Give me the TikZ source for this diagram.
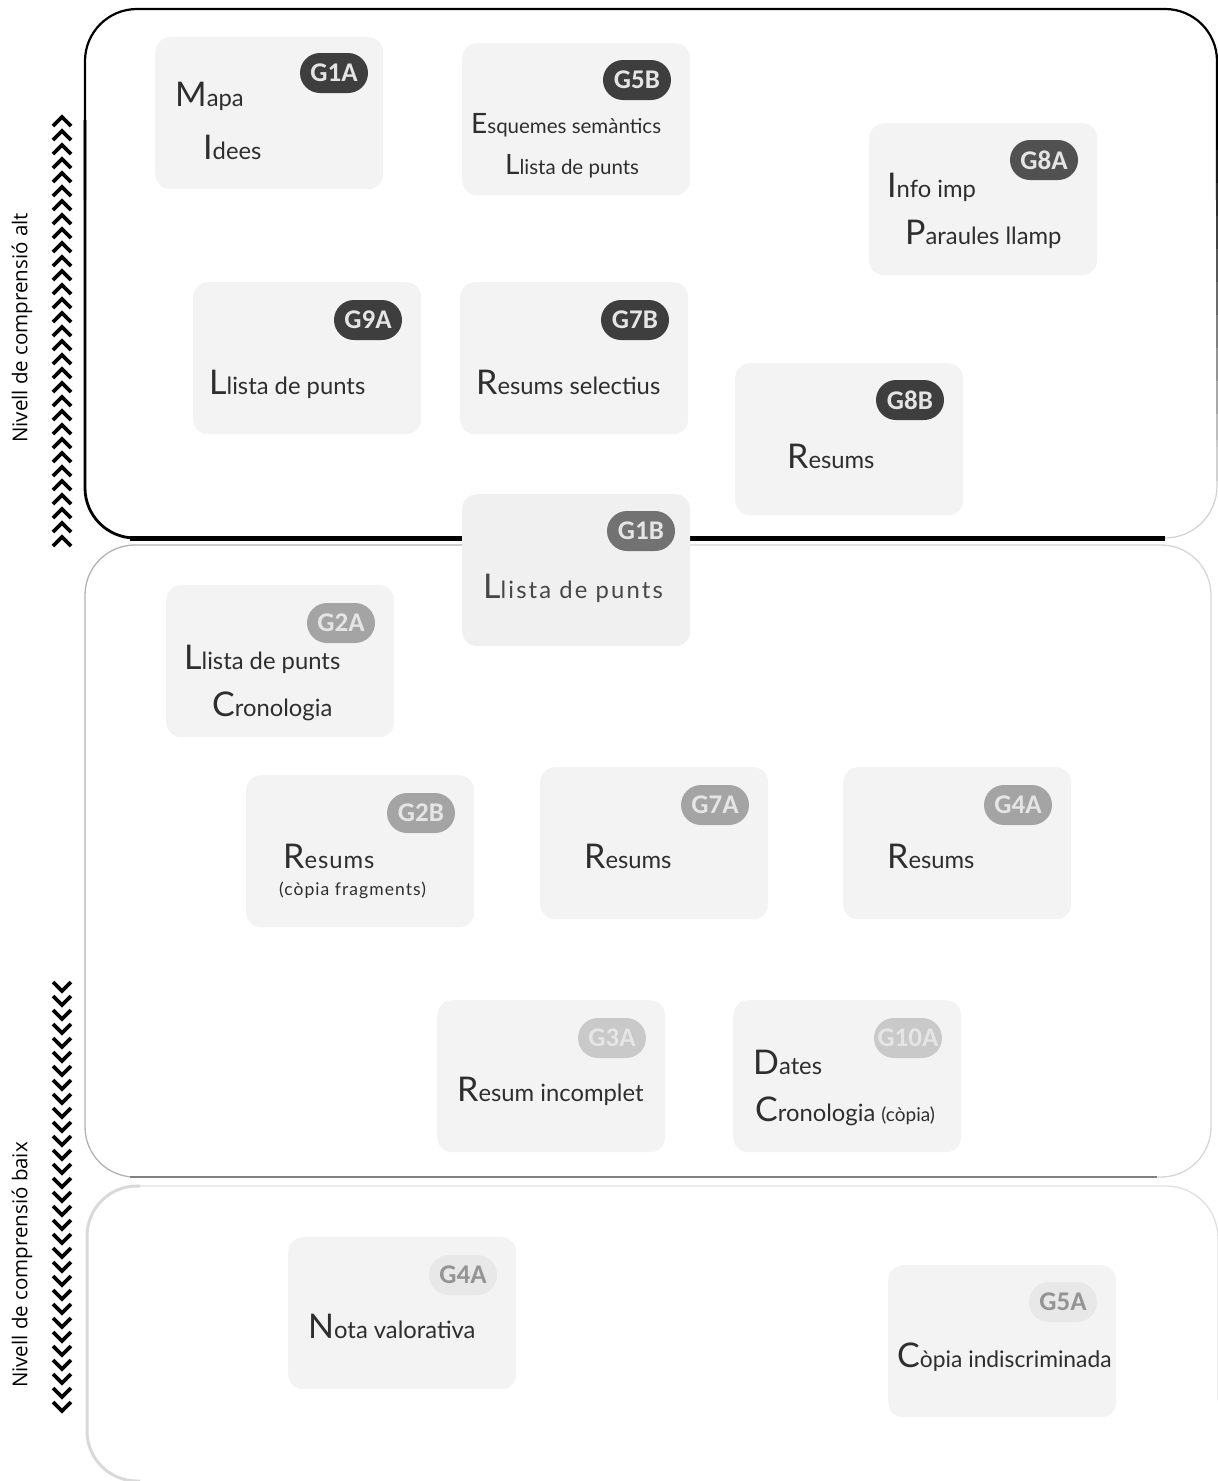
\documentclass[tikz,border=0pt]{standalone}
\usepackage{fontspec}
\setmainfont{Lato}
\newfontfamily\badgefont{Carlito}
\newfontfamily\sidefont{Open Sans}

\definecolor{cardfill}{HTML}{F3F3F3}
\definecolor{inktext}{HTML}{2E2E2E}
\definecolor{bdark}{HTML}{3E3E3E}
\definecolor{bmid}{HTML}{727272}
\definecolor{bgray}{HTML}{A4A4A4}
\definecolor{blight}{HTML}{C9C9C9}
\definecolor{bpale}{HTML}{E8E8E8}

% big initial letter followed by regular text
\newcommand\ini[1]{{\fontsize{34}{34}\selectfont #1}}
\newcommand\inis[1]{{\fontsize{28}{28}\selectfont #1}}
\newcommand\txt{\fontsize{23.8}{28}\selectfont}
\newcommand\txts{\fontsize{20.5}{24}\selectfont}

\begin{document}
\begin{tikzpicture}[x=1pt,y=-1pt,
  card/.style={fill=cardfill, rounded corners=15pt, minimum width=228pt,
    minimum height=152pt, inner sep=0pt, anchor=north west},
  badge/.style={rounded corners=20pt, minimum width=68pt, minimum height=40pt,
    inner sep=0pt, font=\badgefont\bfseries\fontsize{27}{27}\selectfont, text=white!90!black},
  label/.style={anchor=base west, inner sep=0pt, text=inktext},
  chev/.style={line width=3.8pt, line join=miter, miter limit=10},
  side/.style={rotate=90, inner sep=0pt, font=\sidefont\fontsize{20.5}{24}\selectfont}
]
\useasboundingbox (0,0) rectangle (1218,1481);

% ---------- level frames ----------
% upper frame: top edge, left edge, fading right edge, heavy base line
\draw[line width=2.2pt, rounded corners=52pt] (85,200) -- (85,9) -- (1217,9) -- (1217,200);
\draw[line width=2.8pt, rounded corners=50pt] (85,120) -- (85,538) -- (200,538);
\foreach \k in {0,...,9}{
  \pgfmathsetmacro\shade{10+8*\k}
  \draw[line width=1.6pt, color=white!\shade!black]
    (1217,{150+\k*33}) -- (1217,{150+(\k+1)*33+1});
}
\draw[line width=1.2pt, black!18, rounded corners=52pt] (1217,440) -- (1217,538) -- (1120,538);
\draw[line width=5pt] (130,538) -- (1165,538);

% middle frame
\draw[line width=1.3pt, black!16, rounded corners=50pt] (600,545) -- (1211,545) -- (1211,1177) -- (1100,1177);
\draw[line width=1.3pt, black!30, rounded corners=50pt] (600,545) -- (85,545) -- (85,1177) -- (200,1177);
\draw[line width=2.2pt, black!50] (130,1177) -- (1157,1177);

% lower frame
\draw[line width=1.3pt, black!12, rounded corners=52pt] (135,1186) -- (1218,1186) -- (1218,1400);
\draw[line width=3pt, black!15, rounded corners=50pt] (140,1186) -- (87,1186) -- (87,1481) -- (140,1481);

% ---------- direction markers ----------
\foreach \i in {0,...,30}
  \draw[chev] (53,{126+\i*14}) -- (62,{117+\i*14}) -- (71,{126+\i*14});
\foreach \i in {0,...,30}
  \draw[chev] (53,{982+\i*14}) -- (62,{991+\i*14}) -- (71,{982+\i*14});
\node[side] (lvhigh) at (22,328) {Nivell de comprensió alt};
\node[side] (lvlow) at (22,1265) {Nivell de comprensió baix};

% ---------- upper level cards ----------
\node[card] (g1a) at (155,37) {};
\node[badge, fill=bdark] (g1a-b) at (334,73) {G1A};
\node[label] (g1a-t1) at (175,106) {\txt\ini{M}apa};
\node[label] (g1a-t2) at (203,159) {\txt\ini{I}dees};

\node[card] (g5b) at (462,43) {};
\node[badge, fill=bdark] (g5b-b) at (637,80) {G5B};
\node[label] (g5b-t1) at (471,133) {\txts\inis{E}squemes semàntics};
\node[label] (g5b-t2) at (505,174) {\txts\inis{L}lista de punts};

\node[card] (g8a) at (869,123) {};
\node[badge, fill=bdark!90!white] (g8a-b) at (1044,160) {G8A};
\node[label] (g8a-t1) at (887,197) {\txt\ini{I}nfo imp};
\node[label] (g8a-t2) at (905,244) {\txt\ini{P}araules llamp};

\node[card] (g9a) at (193,282) {};
\node[badge, fill=bdark] (g9a-b) at (368,320) {G9A};
\node[label] (g9a-t) at (209,394) {\txt\ini{L}lista de punts};

\node[card] (g7b) at (460,282) {};
\node[badge, fill=bdark] (g7b-b) at (635,320) {G7B};
\node[label] (g7b-t) at (476,394) {\txt\ini{R}esums selectius};

\node[card] (g8b) at (735,363) {};
\node[badge, fill=bdark] (g8b-b) at (910,400) {G8B};
\node[label] (g8b-t) at (787,468) {\txt\ini{R}esums};

% ---------- card on the boundary ----------
\node[card, fill=black!6] (g1b) at (462,494) {};
\node[badge, fill=bmid] (g1b-b) at (641,531) {G1B};
\node[label, text=black!72] (g1b-t) at (483,598) {\txt\addfontfeature{LetterSpace=9}\ini{L}lista de punts};

% ---------- middle level cards ----------
\node[card] (g2a) at (166,585) {};
\node[badge, fill=bgray] (g2a-b) at (341,623) {G2A};
\node[label] (g2a-t1) at (184,669) {\txt\ini{L}lista de punts};
\node[label] (g2a-t2) at (212,716) {\txt\ini{C}ronologia};

\node[card] (g2b) at (246,775) {};
\node[badge, fill=bgray] (g2b-b) at (421,813) {G2B};
\node[label] (g2b-t1) at (283,868) {\txt\addfontfeature{LetterSpace=4}\ini{R}esums};
\node[label] (g2b-t2) at (279,895) {\fontsize{17.5}{20}\selectfont\addfontfeature{LetterSpace=6}(còpia fragments)};

\node[card] (g7a) at (540,767) {};
\node[badge, fill=bgray] (g7a-b) at (715,805) {G7A};
\node[label] (g7a-t) at (584,868) {\txt\ini{R}esums};

\node[card] (g4a) at (843,767) {};
\node[badge, fill=bgray] (g4a-b) at (1018,805) {G4A};
\node[label] (g4a-t) at (887,868) {\txt\ini{R}esums};

\node[card] (g3a) at (437,1000) {};
\node[badge, fill=blight] (g3a-b) at (612,1038) {G3A};
\node[label] (g3a-t) at (457,1101) {\txt\ini{R}esum incomplet};

\node[card] (g10a) at (733,1000) {};
\node[badge, fill=blight] (g10a-b) at (908,1038) {G10A};
\node[label] (g10a-t1) at (753,1074) {\txt\ini{D}ates};
\node[label] (g10a-t2) at (755,1121) {\txt\ini{C}ronologia {\fontsize{19}{22}\selectfont(còpia)}};

% ---------- lower level cards ----------
\node[card] (g4ab) at (288,1237) {};
\node[badge, fill=bpale, text=black!42] (g4ab-b) at (463,1275) {G4A};
\node[label] (g4ab-t) at (308,1338) {\txt\ini{N}ota valorativa};

\node[card] (g5a) at (888,1265) {};
\node[badge, fill=bpale, text=black!42] (g5a-b) at (1063,1302) {G5A};
\node[label] (g5a-t) at (897,1367) {\fontsize{22.8}{27}\selectfont\ini{C}òpia indiscriminada};
\end{tikzpicture}
\end{document}
